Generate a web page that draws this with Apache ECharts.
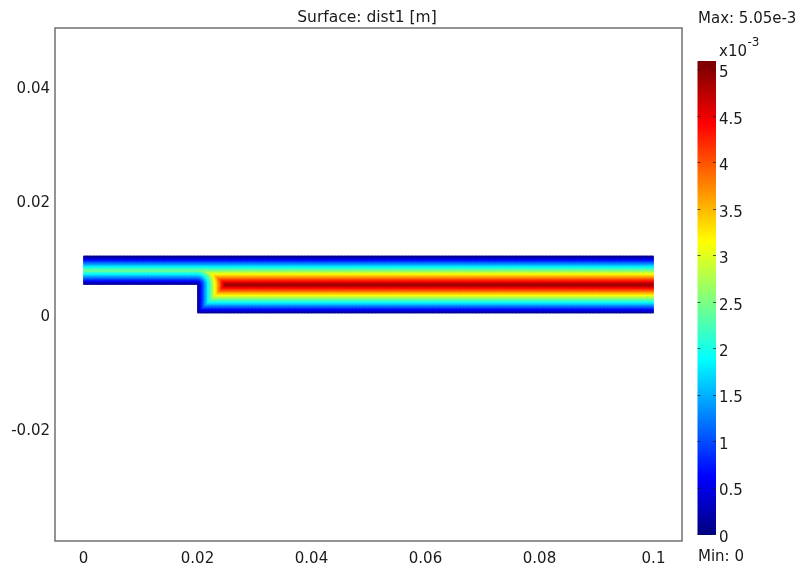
<!DOCTYPE html>
<html><head><meta charset="utf-8">
<script src="https://cdn.jsdelivr.net/npm/echarts@6/dist/echarts.min.js"></script>
<style>html,body{margin:0;padding:0;background:#fff}#c{width:806px;height:572px}</style>
</head><body><div id="c"></div>
<script>
// Domain geometry (m): polygon vertices of the stepped channel
const boundaryX = [0, 0.02, 0.02, 0.1, 0.1, 0, 0];
const boundaryY = [0.005, 0.005, 0, 0, 0.01, 0.01, 0.005];
// Wall segments (inlet x=0 and outlet x=0.1 are open boundaries)
const wallX1 = [0, 0, 0.02, 0.02];
const wallY1 = [0.01, 0.005, 0.005, 0];
const wallX2 = [0.1, 0.02, 0.02, 0.1];
const wallY2 = [0.01, 0.005, 0, 0];
// Axis tick labels
const xTicks = [0, 0.02, 0.04, 0.06, 0.08, 0.1];
const yTicks = [-0.02, 0, 0.02, 0.04];
const colorTicks = [0, 0.5, 1, 1.5, 2, 2.5, 3, 3.5, 4, 4.5, 5];
// Colour range (x1e-3 m)
const distMin = 0, distMax = 5.05, barTop = 5.1;
const jetColors = ['#00007f', '#0000ff', '#007fff', '#00ffff', '#7fff7f', '#ffff00', '#ff7f00', '#ff0000', '#7f0000'];

const cell = 0.00025;
function segDist(px, py, i) {
  const ax = wallX1[i], ay = wallY1[i], bx = wallX2[i], by = wallY2[i];
  const dx = bx - ax, dy = by - ay;
  let t = ((px - ax) * dx + (py - ay) * dy) / (dx * dx + dy * dy);
  t = Math.max(0, Math.min(1, t));
  const qx = ax + t * dx - px, qy = ay + t * dy - py;
  return Math.sqrt(qx * qx + qy * qy);
}
const field = [];
for (let i = 0; i < Math.round(0.1 / cell); i++) {
  for (let j = 0; j < Math.round(0.01 / cell); j++) {
    const x = (i + 0.5) * cell, y = (j + 0.5) * cell;
    if (x < 0.02 && y < 0.005) continue;
    let d = Infinity;
    for (let k = 0; k < wallX1.length; k++) d = Math.min(d, segDist(x, y, k));
    field.push([x, y, d * 1000]);
  }
}
// colour bar: one item spanning the bar's value range
const barData = [[distMin, barTop]];
const barStops = [];
jetColors.forEach((c, k) => {
  const v = distMin + (distMax - distMin) * k / (jetColors.length - 1);
  barStops.push({offset: 1 - v / barTop, color: c});
});
barStops.reverse();
barStops.unshift({offset: 0, color: jetColors[jetColors.length - 1]});

const FONT = 'DejaVu Sans';
const TXT = '#1a1a1a';
const chart = echarts.init(document.getElementById('c'), null, {renderer: 'canvas'});
chart.setOption({
  animation: false,
  backgroundColor: '#fff',
  textStyle: {fontFamily: FONT},
  grid: [
    {left: 55, top: 28, width: 627, height: 513, show: true, borderColor: '#707070', borderWidth: 1.5, backgroundColor: 'transparent'},
    {left: 697.5, top: 61, width: 18.5, height: 474}
  ],
  xAxis: [
    {type: 'value', gridIndex: 0, min: -0.005, max: 0.105,
     axisLine: {show: false}, axisTick: {show: false}, splitLine: {show: false},
     axisLabel: {customValues: xTicks, margin: 11, fontSize: 15, color: TXT, fontFamily: FONT, formatter: v => String(v)}},
    {type: 'value', gridIndex: 1, min: 0, max: 1, show: false}
  ],
  yAxis: [
    {type: 'value', gridIndex: 0, min: -0.04, max: 0.05,
     axisLine: {show: false}, axisTick: {show: false}, splitLine: {show: false},
     axisLabel: {customValues: yTicks, margin: 5, fontSize: 15, color: TXT, fontFamily: FONT,
       formatter: v => '{a|' + v + '}', rich: {a: {fontSize: 15, fontFamily: FONT, color: TXT, padding: [9, 0, 0, 0]}}}},
    {type: 'value', gridIndex: 1, min: 0, max: barTop, position: 'right',
     axisLine: {show: false}, splitLine: {show: false}, axisTick: {show: false},
     axisLabel: {customValues: colorTicks, margin: 3, fontSize: 15, color: TXT, fontFamily: FONT,
       formatter: v => '{a|' + v + '}', rich: {a: {fontSize: 15, fontFamily: FONT, color: TXT, padding: [6, 0, 0, 0]}}}}
  ],
  visualMap: {type: 'continuous', show: false, min: distMin, max: distMax, dimension: 2, seriesIndex: [0],
    inRange: {color: jetColors}},
  series: [
    {type: 'custom', xAxisIndex: 0, yAxisIndex: 0, data: field, encode: {x: 0, y: 1},
     renderItem: function (params, api) {
       const x = api.value(0), y = api.value(1);
       const p0 = api.coord([x - cell / 2, y + cell / 2]);
       const p1 = api.coord([x + cell / 2, y - cell / 2]);
       return {type: 'rect', shape: {x: p0[0] - 0.35, y: p0[1] - 0.35, width: p1[0] - p0[0] + 0.7, height: p1[1] - p0[1] + 0.7},
         style: {fill: api.visual('color')}};
     }},
    {type: 'custom', xAxisIndex: 1, yAxisIndex: 1, data: barData, encode: {y: [0, 1]}, z: 2,
     renderItem: function (params, api) {
       const p0 = api.coord([0, api.value(1)]);
       const p1 = api.coord([1, api.value(0)]);
       const children = [{type: 'rect', shape: {x: p0[0], y: p0[1], width: p1[0] - p0[0], height: p1[1] - p0[1]},
         style: {fill: new echarts.graphic.LinearGradient(0, 0, 0, 1, barStops)}}];
       colorTicks.forEach(t => {
         const yy = Math.round(api.coord([0, t])[1]) - 0.5;
         children.push({type: 'line', shape: {x1: p0[0], y1: yy, x2: p0[0] + 3, y2: yy}, style: {stroke: 'rgba(30,30,30,0.75)', lineWidth: 1}});
         children.push({type: 'line', shape: {x1: p1[0] - 3, y1: yy, x2: p1[0], y2: yy}, style: {stroke: 'rgba(30,30,30,0.75)', lineWidth: 1}});
       });
       return {type: 'group', children: children};
     }}
  ],
  graphic: [
    {type: 'text', x: 367, y: 17.5, style: {text: 'Surface: dist1 [m]', font: '15.5px "DejaVu Sans"', fill: TXT, textAlign: 'center', textVerticalAlign: 'middle'}},
    {type: 'text', x: 698, y: 19, style: {text: 'Max: 5.05e-3', font: '15px "DejaVu Sans"', fill: TXT, textAlign: 'left', textVerticalAlign: 'middle'}},
    {type: 'text', x: 719, y: 52.5, style: {text: 'x10', font: '15px "DejaVu Sans"', fill: TXT, textAlign: 'left', textVerticalAlign: 'middle'}},
    {type: 'text', x: 747.5, y: 43, style: {text: '-3', font: '12px "DejaVu Sans"', fill: TXT, textAlign: 'left', textVerticalAlign: 'middle'}},
    {type: 'text', x: 698, y: 557, style: {text: 'Min: 0', font: '15px "DejaVu Sans"', fill: TXT, textAlign: 'left', textVerticalAlign: 'middle'}}
  ]
});
</script>
</body></html>
